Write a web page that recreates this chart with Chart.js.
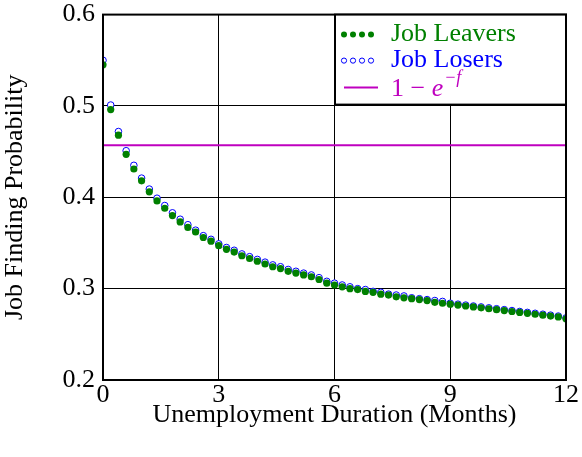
<!DOCTYPE html>
<html><head><meta charset="utf-8">
<script src="https://cdn.jsdelivr.net/npm/chart.js@4"></script>
<style>html,body{margin:0;padding:0;background:#fff;overflow:hidden}#wrap{width:582px;height:466px;margin-top:-9px}</style>
</head><body><div id="wrap"><canvas id="c"></canvas></div>
<script>
// durations in months, 0.2 steps
const months = [0,0.2,0.4,0.6,0.8,1,1.2,1.4,1.6,1.8,2,2.2,2.4,2.6,2.8,3,3.2,3.4,3.6,3.8,4,4.2,4.4,4.6,4.8,5,5.2,5.4,5.6,5.8,6,6.2,6.4,6.6,6.8,7,7.2,7.4,7.6,7.8,8,8.2,8.4,8.6,8.8,9,9.2,9.4,9.6,9.8,10,10.2,10.4,10.6,10.8,11,11.2,11.4,11.6,11.8,12];
const leavers = [0.545,0.496,0.468,0.447,0.431,0.418,0.406,0.396,0.388,0.380,0.373,0.367,0.362,0.356,0.352,0.347,0.343,0.340,0.336,0.333,0.330,0.327,0.324,0.322,0.319,0.317,0.315,0.313,0.310,0.306,0.304,0.302,0.300,0.299,0.297,0.296,0.294,0.293,0.291,0.290,0.289,0.288,0.287,0.285,0.284,0.283,0.282,0.281,0.280,0.279,0.278,0.277,0.276,0.275,0.274,0.273,0.272,0.271,0.270,0.269,0.267];
const losers = [0.550,0.501,0.472,0.451,0.435,0.421,0.409,0.399,0.391,0.383,0.376,0.370,0.364,0.358,0.354,0.349,0.345,0.342,0.338,0.335,0.332,0.329,0.326,0.324,0.321,0.319,0.317,0.315,0.312,0.308,0.306,0.304,0.302,0.300,0.299,0.297,0.296,0.294,0.293,0.292,0.290,0.289,0.288,0.287,0.286,0.284,0.283,0.282,0.281,0.280,0.279,0.278,0.277,0.276,0.275,0.274,0.273,0.272,0.271,0.270,0.268];
const flatRate = 0.457; // 1 - e^{-f}

const font = "'Liberation Serif', 'DejaVu Serif', serif";

// frame + legend box inside plot
const extras = {
  id: 'extras',
  afterDraw(chart) {
    const {ctx, chartArea: a} = chart;
    ctx.save();
    ctx.strokeStyle = '#000';
    ctx.lineWidth = 2;
    ctx.strokeRect(a.left, a.top, a.right - a.left, a.bottom - a.top);
    // legend
    const x0 = 335, y0 = a.top, w = a.right - x0, h = 90;
    ctx.fillStyle = '#fff';
    ctx.fillRect(x0, y0, w, h);
    ctx.strokeRect(x0, y0, w, h);
    ctx.font = '26px ' + font;
    ctx.textBaseline = 'middle';
    const rows = [
      {y: y0 + 20, color: '#008000', type: 'fill', text: 'Job Leavers'},
      {y: y0 + 46, color: '#0000ff', type: 'open', text: 'Job Losers'}
    ];
    rows.forEach(r => {
      for (let i = 0; i < 4; i++) {
        ctx.beginPath();
        ctx.arc(x0 + 9 + i * 9, r.y, r.type === 'fill' ? 3 : 2.6, 0, Math.PI * 2);
        if (r.type === 'fill') { ctx.fillStyle = r.color; ctx.fill(); }
        else { ctx.strokeStyle = r.color; ctx.lineWidth = 1; ctx.stroke(); }
      }
      ctx.fillStyle = r.color;
      ctx.fillText(r.text, x0 + 56, r.y);
    });
    const y3 = y0 + 73;
    ctx.strokeStyle = '#bf00bf'; ctx.lineWidth = 2;
    ctx.beginPath(); ctx.moveTo(x0 + 9, y3); ctx.lineTo(x0 + 43, y3); ctx.stroke();
    ctx.fillStyle = '#bf00bf';
    let tx = x0 + 56;
    ctx.fillText('1 \u2212 ', tx, y3 + 2);
    tx += ctx.measureText('1 \u2212 ').width;
    ctx.font = 'italic 26px ' + font;
    ctx.fillText('e', tx, y3 + 2);
    tx += ctx.measureText('e').width + 1;
    ctx.font = 'italic 18px ' + font;
    ctx.fillText('\u2212f', tx, y3 - 9);
    ctx.restore();
  }
};

new Chart(document.getElementById('c'), {
  type: 'scatter',
  data: {
    datasets: [
      {
        label: 'Job Leavers',
        data: months.map((m, i) => ({x: m, y: leavers[i]})),
        backgroundColor: '#008000', borderColor: '#008000',
        pointRadius: 3.6, borderWidth: 0, order: 0
      },
      {
        label: 'Job Losers',
        data: months.map((m, i) => ({x: m, y: losers[i]})),
        backgroundColor: '#ffffff', borderColor: '#0000ff',
        pointRadius: 3.3, borderWidth: 1, order: 1
      },
      {
        label: '1 - e^-f',
        type: 'line',
        data: [{x: 0, y: flatRate}, {x: 12, y: flatRate}],
        borderColor: '#bf00bf', borderWidth: 2, pointRadius: 0, order: 2
      }
    ]
  },
  options: {
    responsive: true,
    maintainAspectRatio: false,
    animation: false,
    layout: {padding: {top: 0, right: 16, left: 0, bottom: 22}},
    plugins: {legend: {display: false}, tooltip: {enabled: false}},
    scales: {
      x: {
        type: 'linear', min: 0, max: 12,
        afterFit: s => { s.height = 55; },
        ticks: {stepSize: 3, color: '#000', font: {family: font, size: 26}, padding: 0},
        grid: {color: '#000', lineWidth: 1, drawTicks: false},
        border: {color: '#000', width: 2},
        title: {display: true, text: 'Unemployment Duration (Months)', color: '#000',
                font: {family: font, size: 26}, padding: {top: -8}}
      },
      y: {
        min: 0.2, max: 0.6,
        afterFit: s => { s.width = 103; },
        ticks: {stepSize: 0.1, color: '#000', font: {family: font, size: 26}, padding: 8,
                callback: v => v.toFixed(1)},
        grid: {color: '#000', lineWidth: 1, drawTicks: false},
        border: {color: '#000', width: 2},
        title: {display: true, text: 'Job Finding Probability', color: '#000',
                font: {family: font, size: 26}, padding: {top: 0, bottom: 2}}
      }
    }
  },
  plugins: [extras]
});
</script></body></html>
